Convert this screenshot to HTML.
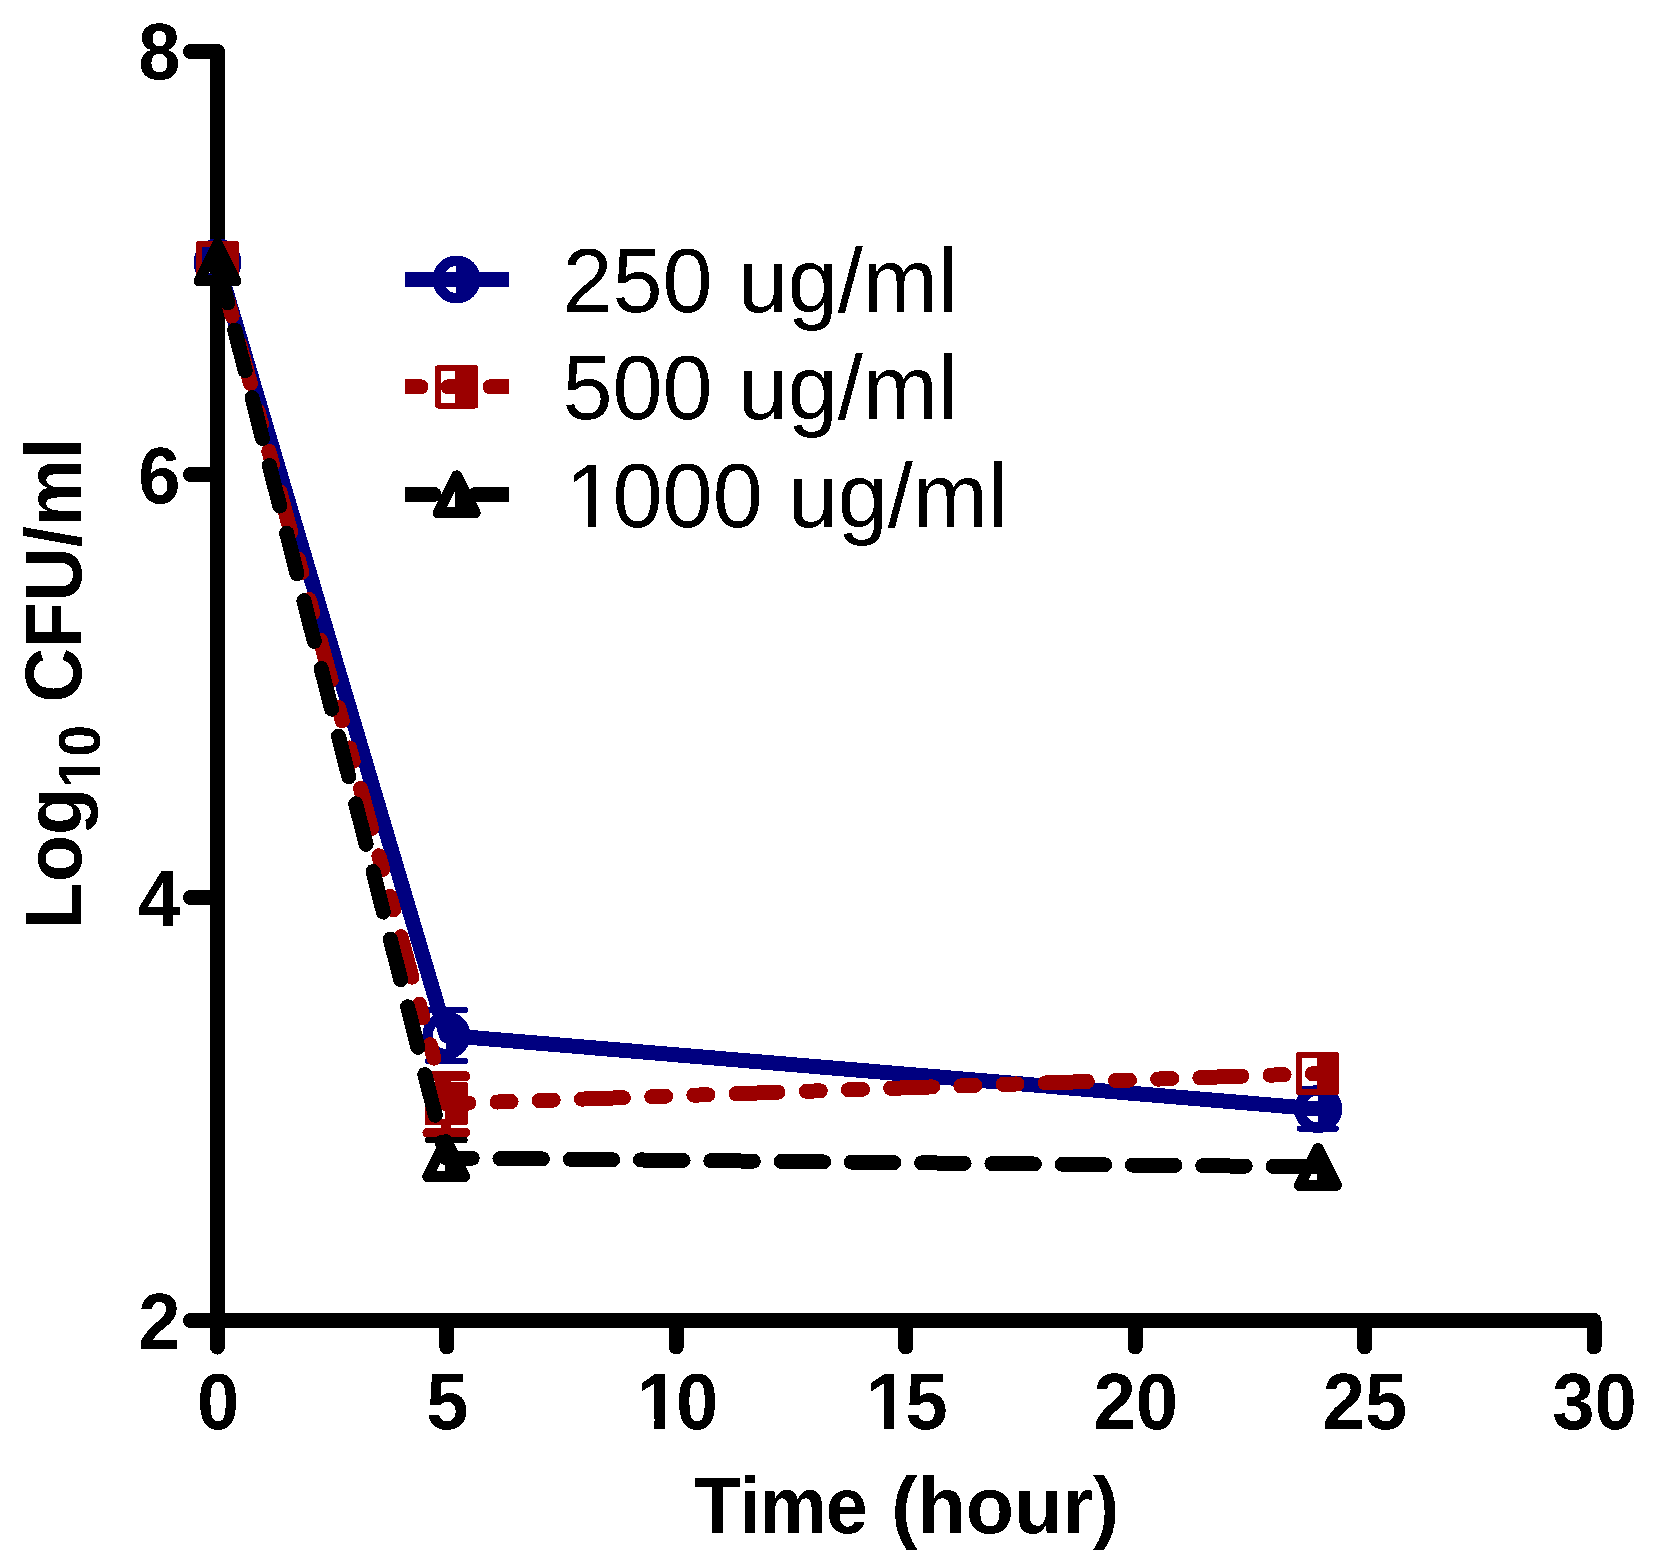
<!DOCTYPE html>
<html lang="en"><head><meta charset="utf-8"><title>Time kill curve</title>
<style>
html,body{margin:0;padding:0;background:#fff;}
body{width:1653px;height:1566px;overflow:hidden;}
svg{display:block;}
text{font-family:"Liberation Sans",Arial,Helvetica,sans-serif;fill:#000;font-kerning:none;}
.b{font-weight:bold;}
</style></head><body>
<svg width="1653" height="1566" viewBox="0 0 1653 1566" shape-rendering="crispEdges">
<rect width="1653" height="1566" fill="#fff"/>

<defs><filter id="bw" x="0" y="0" width="1653" height="1566" filterUnits="userSpaceOnUse" color-interpolation-filters="sRGB"><feComponentTransfer><feFuncA type="discrete" tableValues="0 1"/></feComponentTransfer></filter><clipPath id="c80"><path d="M-10 -80.00 H80.00 V-9.06 H29.85 V2 H18.47 V-9.06 H-10 Z"/></clipPath><clipPath id="c59"><path d="M-10 -59.00 H59.00 V-6.92 H22.07 V2 H13.57 V-6.92 H-10 Z"/></clipPath><clipPath id="c90"><path d="M-10 -90.00 H90.00 V-7.62 H30.79 V2 H22.43 V-7.62 H-10 Z"/></clipPath></defs>
<g id="axes" stroke="#000" stroke-width="15.0" fill="none" stroke-linecap="round" stroke-linejoin="round">
<polyline points="217.5,51.5 217.5,1320.5 1594.0,1320.5"/>
<line x1="190.5" y1="51.5" x2="217.5" y2="51.5"/>
<line x1="190.5" y1="474.5" x2="217.5" y2="474.5"/>
<line x1="190.5" y1="897.5" x2="217.5" y2="897.5"/>
<line x1="190.5" y1="1320.5" x2="217.5" y2="1320.5"/>
<line x1="217.5" y1="1320.5" x2="217.5" y2="1347.0"/>
<line x1="446.9" y1="1320.5" x2="446.9" y2="1347.0"/>
<line x1="676.3" y1="1320.5" x2="676.3" y2="1347.0"/>
<line x1="905.7" y1="1320.5" x2="905.7" y2="1347.0"/>
<line x1="1135.2" y1="1320.5" x2="1135.2" y2="1347.0"/>
<line x1="1364.6" y1="1320.5" x2="1364.6" y2="1347.0"/>
<line x1="1594.0" y1="1320.5" x2="1594.0" y2="1347.0"/>
</g>
<g id="ticklabels" filter="url(#bw)">
<text class="b" font-size="80" text-anchor="end" transform="translate(180.5 79.0) scale(0.95 1)">8</text>
<text class="b" font-size="80" text-anchor="end" transform="translate(180.5 503.0) scale(0.95 1)">6</text>
<text class="b" font-size="80" text-anchor="end" transform="translate(180.5 926.0) scale(0.95 1)">4</text>
<text class="b" font-size="80" text-anchor="end" transform="translate(180.5 1349.2) scale(0.95 1)">2</text>
<text class="b" font-size="80" text-anchor="middle" transform="translate(218.0 1428.5) scale(0.95 1)">0</text>
<text class="b" font-size="80" text-anchor="middle" transform="translate(447.4 1428.5) scale(0.95 1)">5</text>
<g class="b" font-size="80" transform="translate(634.6 1428.5) scale(0.95 1)"><g transform="translate(2.20 0)" clip-path="url(#c80)"><text>1</text></g><text x="43.6">0</text></g>
<g class="b" font-size="80" transform="translate(864.0 1428.5) scale(0.95 1)"><g transform="translate(2.20 0)" clip-path="url(#c80)"><text>1</text></g><text x="43.6">5</text></g>
<text class="b" font-size="80" text-anchor="middle" transform="translate(1135.7 1428.5) scale(0.95 1)">20</text>
<text class="b" font-size="80" text-anchor="middle" transform="translate(1365.1 1428.5) scale(0.95 1)">25</text>
<text class="b" font-size="80" text-anchor="middle" transform="translate(1594.5 1428.5) scale(0.95 1)">30</text>
</g>
<g id="xtitle" class="b" font-size="80" filter="url(#bw)">
<text transform="translate(694.3 1532.7) scale(0.945 1)" letter-spacing="-1">Time </text>
<text transform="translate(891.3 1532.7) scale(0.987 1)">(hour)</text>
</g>
<g id="ytitle" class="b" filter="url(#bw)">
<text font-size="80" transform="translate(81 929.6) rotate(-90) scale(0.967 1)">Log</text>
<g font-size="59" transform="translate(100 788.4) rotate(-90) scale(0.967 1)"><g transform="translate(-0.10 0)" clip-path="url(#c59)"><text>1</text></g><text x="32.8">0</text></g>
<text font-size="80" transform="translate(81 702.5) rotate(-90) scale(0.945 1)"> CFU/ml</text>
</g>
<g id="s250">
<polyline points="217.5,262.4 446.4,1035.4 1318.2,1109.0" fill="none" stroke="#000080" stroke-width="15" stroke-linejoin="round"/>
<g stroke="#000080" stroke-width="6.0" stroke-linecap="round" fill="none"><line x1="446.4" y1="1009.9" x2="446.4" y2="1011.4" stroke-linecap="butt"/><line x1="446.4" y1="1059.4" x2="446.4" y2="1060.9" stroke-linecap="butt"/><line x1="427.9" y1="1009.9" x2="464.9" y2="1009.9"/><line x1="427.9" y1="1060.9" x2="464.9" y2="1060.9"/></g>
<g stroke="#000080" stroke-width="6.0" stroke-linecap="round" fill="none"><line x1="1299.7" y1="1089.4" x2="1335.9" y2="1089.4"/><line x1="1299.7" y1="1128.6" x2="1335.9" y2="1128.6"/></g>
<path d="M217.0 243.6 A18.75 18.75 0 0 1 217.0 281.1 Z" fill="#000080"/><circle cx="217.5" cy="262.4" r="18.75" fill="none" stroke="#000080" stroke-width="10.5"/>
<path d="M445.9 1016.7 A18.75 18.75 0 0 1 445.9 1054.2 Z" fill="#000080"/><circle cx="446.4" cy="1035.4" r="18.75" fill="none" stroke="#000080" stroke-width="10.5"/>
<path d="M1317.7 1090.2 A18.75 18.75 0 0 1 1317.7 1127.8 Z" fill="#000080"/><circle cx="1318.2" cy="1109.0" r="18.75" fill="none" stroke="#000080" stroke-width="10.5"/>
</g>
<g id="s500">
<line x1="217.5" y1="262.4" x2="446.4" y2="1103.8" stroke="#9b0000" stroke-width="15" stroke-linecap="round" stroke-dasharray="13.92 28.03 13.92 28.03 41.75 28.13" stroke-dashoffset="0.1"/>
<line x1="446.4" y1="1103.8" x2="1317.8" y2="1073.5" stroke="#9b0000" stroke-width="15" stroke-linecap="round" stroke-dasharray="14 28.2 14 28.2 42 28.3" stroke-dashoffset="104.0"/>
<g stroke="#9b0000" stroke-width="10.0" stroke-linecap="round" fill="none"><line x1="446.4" y1="1076.2" x2="446.4" y2="1084.4" stroke-linecap="butt"/><line x1="446.4" y1="1124.4" x2="446.4" y2="1132.6" stroke-linecap="butt"/><line x1="427.4" y1="1076.2" x2="465.4" y2="1076.2"/><line x1="427.4" y1="1132.6" x2="465.4" y2="1132.6"/></g>
<rect x="216.3" y="243.8" width="19.8" height="37.2" fill="#9b0000"/><rect x="198.9" y="243.8" width="37.2" height="37.2" fill="none" stroke="#9b0000" stroke-width="6.0" stroke-linejoin="round"/>
<rect x="445.2" y="1085.2" width="19.8" height="37.2" fill="#9b0000"/><rect x="427.8" y="1085.2" width="37.2" height="37.2" fill="none" stroke="#9b0000" stroke-width="6.0" stroke-linejoin="round"/>
<rect x="1316.6" y="1054.9" width="19.8" height="37.2" fill="#9b0000"/><rect x="1299.2" y="1054.9" width="37.2" height="37.2" fill="none" stroke="#9b0000" stroke-width="6.0" stroke-linejoin="round"/>
</g>
<g id="s1000">
<line x1="217.5" y1="262.4" x2="446.2" y2="1158.0" stroke="#000000" stroke-width="15" stroke-linecap="round" stroke-dasharray="41.9 27.95" stroke-dashoffset="0.0"/>
<line x1="446.2" y1="1158.0" x2="1318.0" y2="1166.9" stroke="#000000" stroke-width="15" stroke-linecap="round" stroke-dasharray="42.5 27.78" stroke-dashoffset="16.5"/>
<g stroke="#000000" stroke-width="6.0" stroke-linecap="round" fill="none"><line x1="427.7" y1="1140.0" x2="464.7" y2="1140.0"/><line x1="427.7" y1="1176.0" x2="464.7" y2="1176.0"/></g>
<path d="M216.0 243.9 L236.0 280.9 L216.0 280.9 Z" fill="#000000"/><path d="M217.5 243.9 L236.0 280.9 L199.0 280.9 Z" fill="none" stroke="#000000" stroke-width="11.0" stroke-linejoin="round"/>
<path d="M444.7 1139.5 L464.7 1176.5 L444.7 1176.5 Z" fill="#000000"/><path d="M446.2 1139.5 L464.7 1176.5 L427.7 1176.5 Z" fill="none" stroke="#000000" stroke-width="11.0" stroke-linejoin="round"/>
<path d="M1316.5 1148.4 L1336.5 1185.4 L1316.5 1185.4 Z" fill="#000000"/><path d="M1318.0 1148.4 L1336.5 1185.4 L1299.5 1185.4 Z" fill="none" stroke="#000000" stroke-width="11.0" stroke-linejoin="round"/>
</g>
<g id="legend">
<svg x="405" y="259" width="104" height="40" viewBox="405 259 104 40" overflow="hidden"><line x1="405" y1="279.5" x2="549" y2="279.5" stroke="#000080" stroke-width="15" stroke-linecap="butt"/></svg>
<path d="M456.1 260.8 A18.75 18.75 0 0 1 456.1 298.2 Z" fill="#000080"/><circle cx="456.6" cy="279.5" r="18.75" fill="none" stroke="#000080" stroke-width="10.5"/>
<text x="562.5" y="311.8" font-size="90" filter="url(#bw)">250 ug/ml</text>
<svg x="405" y="366" width="104" height="40" viewBox="405 366 104 40" overflow="hidden"><line x1="405" y1="386.9" x2="549" y2="386.9" stroke="#9b0000" stroke-width="15" stroke-linecap="round" stroke-dasharray="16 27 14 28 42 28"/></svg>
<rect x="455.4" y="368.3" width="19.8" height="37.2" fill="#9b0000"/><rect x="438.0" y="368.3" width="37.2" height="37.2" fill="none" stroke="#9b0000" stroke-width="6.0" stroke-linejoin="round"/>
<text x="562.5" y="419.2" font-size="90" filter="url(#bw)">500 ug/ml</text>
<svg x="405" y="474" width="104" height="40" viewBox="405 474 104 40" overflow="hidden"><line x1="405" y1="494.4" x2="549" y2="494.4" stroke="#000000" stroke-width="15" stroke-linecap="round" stroke-dasharray="29 41.5 80 10"/></svg>
<path d="M455.1 475.9 L475.1 512.9 L455.1 512.9 Z" fill="#000000"/><path d="M456.6 475.9 L475.1 512.9 L438.1 512.9 Z" fill="none" stroke="#000000" stroke-width="11.0" stroke-linejoin="round"/>
<g filter="url(#bw)"><g font-size="90" transform="translate(562.5 526.7)"><g transform="translate(3.00 0)" clip-path="url(#c90)"><text>1</text></g><text x="50.05">000 ug/ml</text></g></g>
</g>
</svg></body></html>
